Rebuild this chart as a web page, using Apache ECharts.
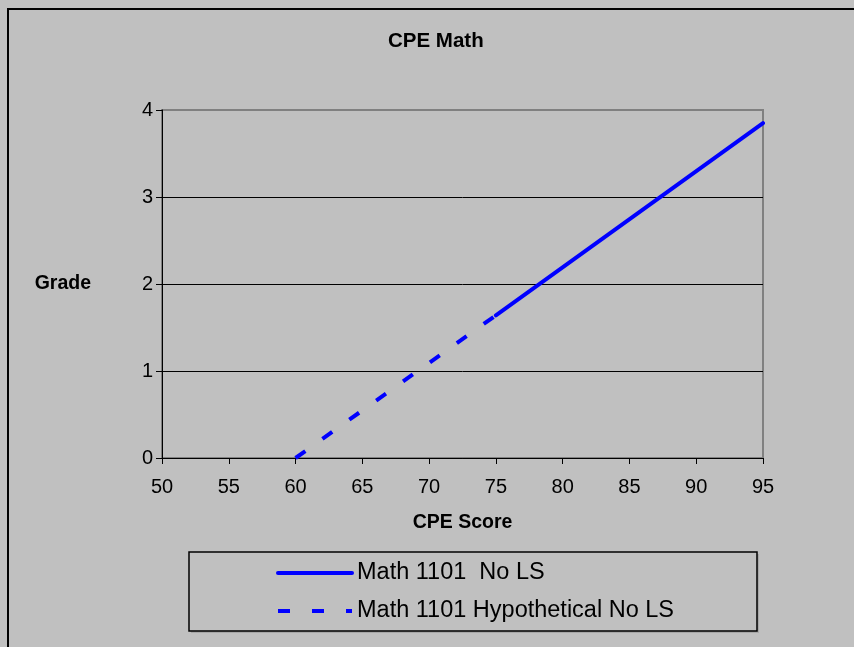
<!DOCTYPE html>
<html>
<head>
<meta charset="utf-8">
<script src="https://cdn.jsdelivr.net/npm/echarts@6/dist/echarts.min.js"></script>
<style>
html,body{margin:0;padding:0;background:#c0c0c0;}
#chart{width:854px;height:647px;}
</style>
</head>
<body>
<div id="chart"></div>
<script>
const chartTitle = 'CPE Math';
const xAxisName = 'CPE Score';
const yAxisName = 'Grade';
const seriesNames = ['Math 1101  No LS', 'Math 1101 Hypothetical No LS'];
const solidScores = [75, 95];
const solidGrades = [1.64, 3.85];
const dashScores = [60, 75];
const dashGrades = [0, 1.64];
const xTicks = [50, 55, 60, 65, 70, 75, 80, 85, 90, 95];
const yTicks = [0, 1, 2, 3, 4];

const font = 'Liberation Sans, Arial, sans-serif';
const chart = echarts.init(document.getElementById('chart'));
const option = {
  backgroundColor: '#c0c0c0',
  animation: false,
  title: {
    text: chartTitle,
    left: 388, top: 31,
    padding: 0,
    textStyle: {fontFamily: font, fontSize: 20.5, fontWeight: 'bold', color: '#000'}
  },
  graphic: [
    {type: 'rect', z: -10, silent: true, shape: {x: 8, y: 9, width: 900, height: 700},
     style: {fill: 'none', stroke: '#000', lineWidth: 2}},
    {type: 'rect', z: -5, silent: true, shape: {x: 191, y: 554, width: 568, height: 79},
     style: {fill: '#a8a8a8', stroke: 'none'}},
    {type: 'rect', z: -4, silent: true, shape: {x: 189, y: 552, width: 568, height: 79},
     style: {fill: '#c0c0c0', stroke: '#000', lineWidth: 1.5}}
  ],
  grid: {
    left: 162, right: 91, top: 110, bottom: 189,
    show: true, backgroundColor: 'transparent', borderColor: '#808080', borderWidth: 2
  },
  legend: {
    orient: 'vertical',
    left: 276, top: 561,
    padding: 0,
    itemWidth: 74, itemHeight: 16, itemGap: 14,
    itemStyle: {opacity: 0},
    textStyle: {fontFamily: font, fontSize: 23.5, color: '#000'},
    data: [
      {name: seriesNames[0], lineStyle: {width: 4, color: '#0000ff', cap: 'round'}},
      {name: seriesNames[1], lineStyle: {width: 4, color: '#0000ff', type: [12, 22], cap: 'butt'}}
    ]
  },
  xAxis: {
    type: 'value', min: xTicks[0], max: xTicks[xTicks.length - 1], interval: 5,
    name: xAxisName, nameLocation: 'middle', nameGap: 55,
    nameTextStyle: {fontFamily: font, fontSize: 19.5, fontWeight: 'bold', color: '#000'},
    axisLine: {show: true, onZero: false, lineStyle: {color: '#000', width: 1}},
    axisTick: {show: true, inside: false, length: 6, lineStyle: {color: '#000'}},
    axisLabel: {margin: 19, fontFamily: font, fontSize: 20, color: '#000'},
    splitLine: {show: false}
  },
  yAxis: {
    type: 'value', min: yTicks[0], max: yTicks[yTicks.length - 1], interval: 1,
    name: yAxisName, nameLocation: 'middle', nameRotate: 0, nameGap: 71,
    nameTextStyle: {fontFamily: font, fontSize: 19.5, fontWeight: 'bold', color: '#000', padding: [0, 0, 6, 0]},
    axisLine: {show: true, onZero: false, lineStyle: {color: '#000', width: 1}},
    axisTick: {show: true, inside: false, length: 6, lineStyle: {color: '#000'}},
    axisLabel: {margin: 9, fontFamily: font, fontSize: 20, color: '#000'},
    splitLine: {show: true, showMaxLine: false, lineStyle: {color: '#000', width: 1}}
  },
  series: [
    {
      name: seriesNames[0], type: 'line', symbol: 'none', z: 5,
      data: solidScores.map((s, i) => [s, solidGrades[i]]),
      lineStyle: {color: '#0000ff', width: 4, cap: 'round'},
      itemStyle: {color: '#0000ff'}
    },
    {
      name: seriesNames[1], type: 'line', symbol: 'none', z: 4,
      data: dashScores.map((s, i) => [s, dashGrades[i]]),
      lineStyle: {color: '#0000ff', width: 4, type: [12, 21], cap: 'butt'},
      itemStyle: {color: '#0000ff'}
    }
  ]
};
chart.setOption(option);
</script>
</body>
</html>
